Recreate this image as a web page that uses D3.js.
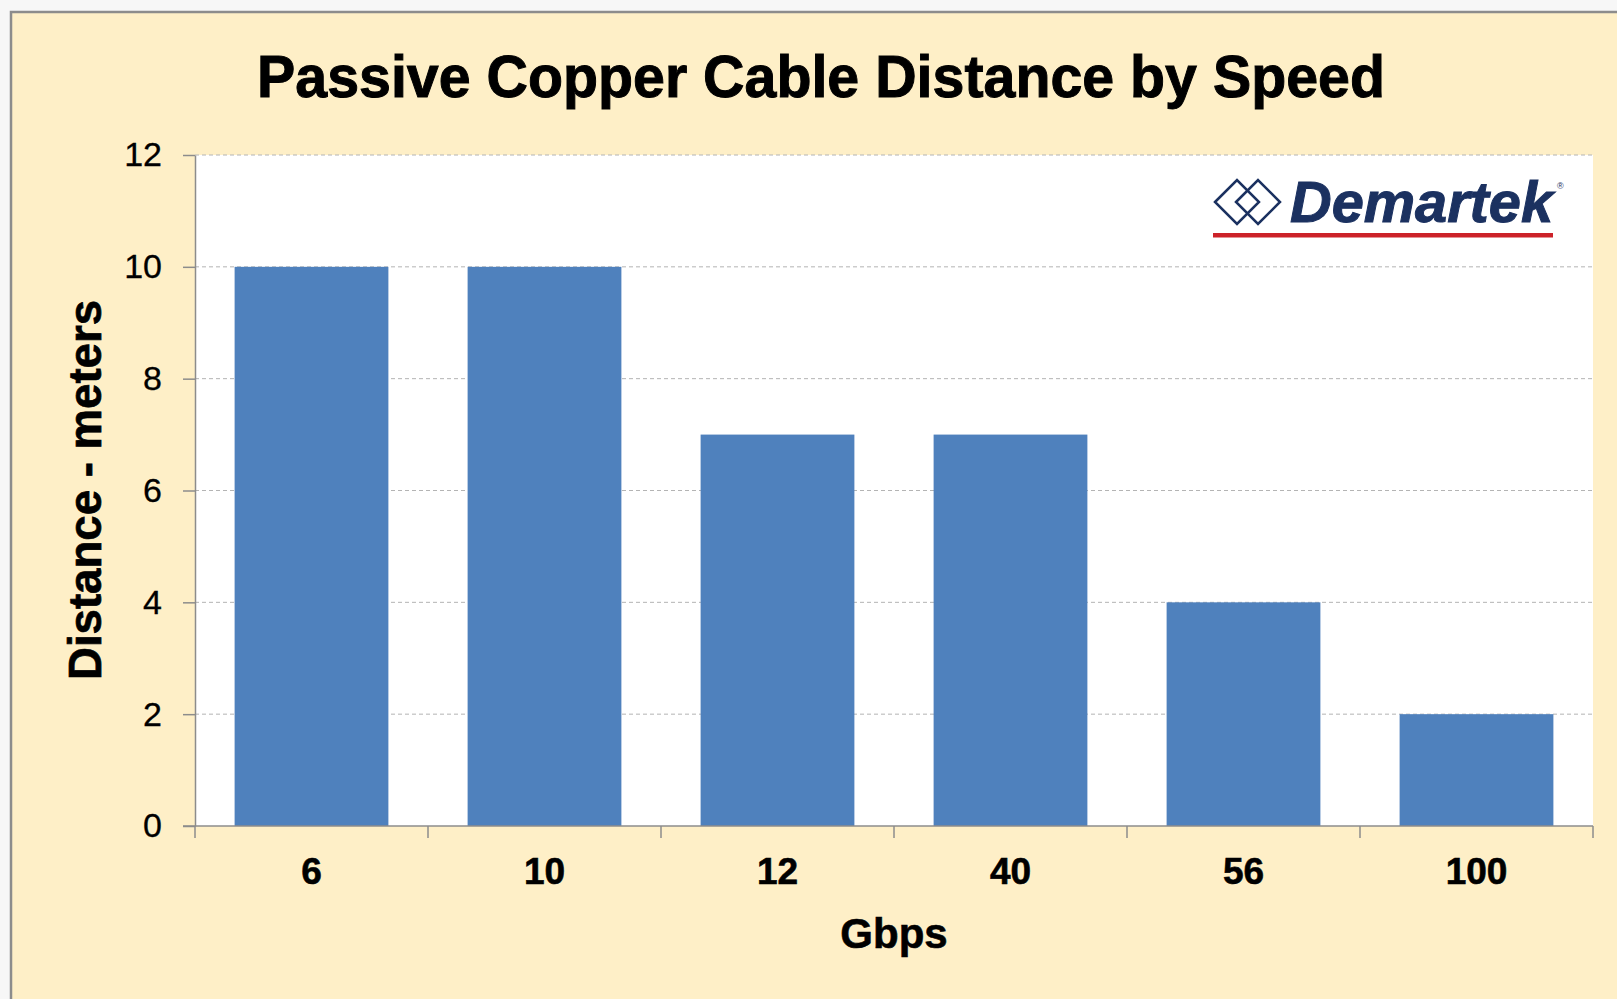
<!DOCTYPE html>
<html>
<head>
<meta charset="utf-8">
<script src="https://cdn.jsdelivr.net/npm/d3@7"></script>
<style>
  html, body { margin: 0; padding: 0; background: #f7f7f7; overflow: hidden; }
  svg { display: block; }
</style>
</head>
<body>
<svg id="chart" width="1617" height="999"></svg>
<script>
// ---- data ----
const categories = ["6", "10", "12", "40", "56", "100"];
const distances = [10, 10, 7, 7, 4, 2];
const yTicks = [0, 2, 4, 6, 8, 10, 12];
const titleText = "Passive Copper Cable Distance by Speed";
const xTitle = "Gbps";
const yTitle = "Distance - meters";

// ---- layout ----
const W = 1617, H = 999;
const plot = { left: 195, right: 1593, top: 155, bottom: 826 };

const svg = d3.select("#chart");

// chart background with border
svg.append("rect")
  .attr("x", 11).attr("y", 12)
  .attr("width", W).attr("height", H)
  .attr("fill", "#FEEFC7")
  .attr("stroke", "#8c8c8c").attr("stroke-width", 2.5);

// plot area
svg.append("rect")
  .attr("x", plot.left).attr("y", plot.top)
  .attr("width", plot.right - plot.left).attr("height", plot.bottom - plot.top)
  .attr("fill", "#ffffff");

const x = d3.scaleBand()
  .domain(categories)
  .range([plot.left, plot.right])
  .paddingInner(0.34)
  .paddingOuter(0.17);

const y = d3.scaleLinear()
  .domain([0, 12])
  .range([plot.bottom, plot.top]);

// gridlines
svg.append("g")
  .selectAll("line")
  .data(yTicks.filter(d => d > 0))
  .join("line")
  .attr("x1", plot.left).attr("x2", plot.right)
  .attr("y1", d => y(d)).attr("y2", d => y(d))
  .attr("stroke", "#b4b4b4")
  .attr("stroke-width", 1)
  .attr("stroke-dasharray", "4,3");

// bars
svg.append("g")
  .selectAll("rect")
  .data(categories.map((c, i) => ({ c, v: distances[i] })))
  .join("rect")
  .attr("x", d => x(d.c))
  .attr("width", x.bandwidth())
  .attr("y", d => y(d.v))
  .attr("height", d => y(0) - y(d.v))
  .attr("fill", "#4F81BD");

// y axis
const yAxis = svg.append("g")
  .attr("transform", `translate(${plot.left},0)`)
  .call(d3.axisLeft(y).tickValues(yTicks).tickSize(12).tickSizeOuter(0).tickPadding(21));
yAxis.select(".domain").attr("stroke", "#8c8c8c").attr("stroke-width", 1.5);
yAxis.selectAll(".tick line").attr("stroke", "#8c8c8c").attr("stroke-width", 1.5);
yAxis.selectAll(".tick text")
  .attr("font-family", "'Liberation Sans', Arial, sans-serif")
  .attr("font-size", 34)
  .attr("fill", "#000")
  .attr("stroke", "#000").attr("stroke-width", 0.3);

// x axis (labels)
const xAxis = svg.append("g")
  .attr("transform", `translate(0,${plot.bottom})`)
  .call(d3.axisBottom(x).tickSize(0).tickSizeOuter(0).tickPadding(32));
xAxis.select(".domain").remove();
xAxis.selectAll(".tick text")
  .attr("font-family", "'Liberation Sans', Arial, sans-serif")
  .attr("font-weight", "bold")
  .attr("font-size", 37)
  .attr("fill", "#000")
  .attr("stroke", "#000").attr("stroke-width", 0.6);

// x axis line and boundary ticks
const boundaries = categories.map(c => x(c) - x.paddingOuter() * x.step())
  .concat([x(categories[categories.length - 1]) + x.bandwidth() + x.paddingOuter() * x.step()]);
svg.append("line")
  .attr("x1", plot.left - 12).attr("x2", plot.right)
  .attr("y1", y(0)).attr("y2", y(0))
  .attr("stroke", "#8c8c8c").attr("stroke-width", 1.5);
svg.append("g")
  .selectAll("line")
  .data(boundaries)
  .join("line")
  .attr("x1", d => d).attr("x2", d => d)
  .attr("y1", y(0)).attr("y2", y(0) + 12)
  .attr("stroke", "#8c8c8c").attr("stroke-width", 1.5);

// title
svg.append("text")
  .attr("x", 821).attr("y", 97)
  .attr("text-anchor", "middle")
  .attr("font-family", "'Liberation Sans', Arial, sans-serif")
  .attr("font-weight", "bold")
  .attr("font-size", 60)
  .attr("textLength", 1128)
  .attr("lengthAdjust", "spacingAndGlyphs")
  .attr("fill", "#000")
  .attr("stroke", "#000").attr("stroke-width", 1)
  .text(titleText);

// axis titles
svg.append("text")
  .attr("x", (plot.left + plot.right) / 2).attr("y", 948)
  .attr("text-anchor", "middle")
  .attr("font-family", "'Liberation Sans', Arial, sans-serif")
  .attr("font-weight", "bold")
  .attr("font-size", 42)
  .attr("fill", "#000")
  .attr("stroke", "#000").attr("stroke-width", 0.6)
  .text(xTitle);

svg.append("text")
  .attr("transform", "translate(101,490) rotate(-90)")
  .attr("text-anchor", "middle")
  .attr("font-family", "'Liberation Sans', Arial, sans-serif")
  .attr("font-weight", "bold")
  .attr("font-size", 46)
  .attr("textLength", 380)
  .attr("lengthAdjust", "spacingAndGlyphs")
  .attr("fill", "#000")
  .attr("stroke", "#000").attr("stroke-width", 0.7)
  .text(yTitle);

// logo
const logo = svg.append("g");
const navy = "#1B3160";
const diamond = (cx, cy, r) => `M${cx - r},${cy}L${cx},${cy - r}L${cx + r},${cy}L${cx},${cy + r}Z`;
logo.append("path").attr("d", diamond(1237, 202, 22))
  .attr("fill", "none").attr("stroke", navy).attr("stroke-width", 2.5);
logo.append("path").attr("d", diamond(1258, 202, 22))
  .attr("fill", "none").attr("stroke", navy).attr("stroke-width", 2.5);
logo.append("text")
  .attr("x", 1290).attr("y", 222)
  .attr("font-family", "'Liberation Sans', Arial, sans-serif")
  .attr("font-weight", "bold")
  .attr("font-style", "italic")
  .attr("font-size", 57)
  .attr("textLength", 263)
  .attr("lengthAdjust", "spacingAndGlyphs")
  .attr("fill", navy)
  .attr("stroke", navy).attr("stroke-width", 1)
  .text("Demartek");
logo.append("text")
  .attr("x", 1557).attr("y", 189)
  .attr("font-family", "'Liberation Sans', Arial, sans-serif")
  .attr("font-size", 9)
  .attr("fill", navy)
  .text("®");
logo.append("rect")
  .attr("x", 1213).attr("y", 233)
  .attr("width", 340).attr("height", 4.5)
  .attr("fill", "#CC2229");
</script>
</body>
</html>
